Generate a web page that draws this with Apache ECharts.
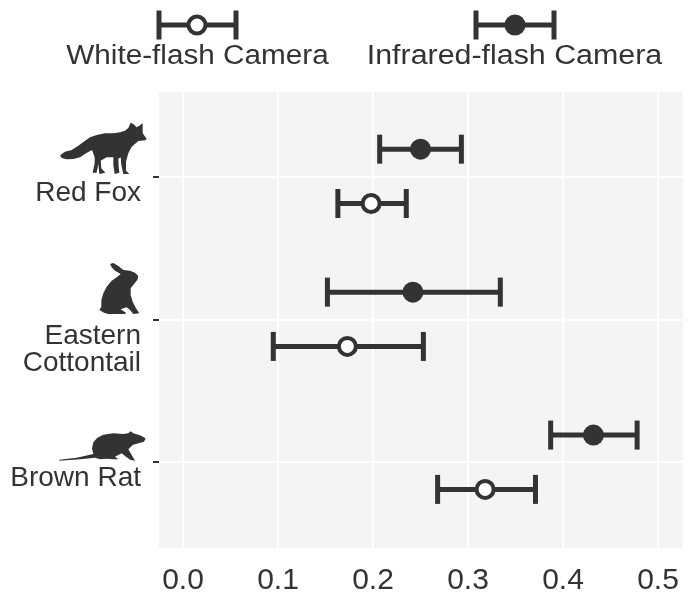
<!DOCTYPE html>
<html><head><meta charset="utf-8">
<style>html,body{margin:0;padding:0;background:#fff}#c{width:691px;height:592px}</style>
<script src="https://cdn.jsdelivr.net/npm/echarts@6/dist/echarts.min.js"></script>
</head><body><div id="c"></div>
<script>
const species = ['Brown Rat', 'Eastern\nCottontail', 'Red Fox'];
const rowPositions = [1, 2, 3];
const xTicks = [0, 0.1, 0.2, 0.3, 0.4, 0.5];
const infraredMean = [0.432, 0.242, 0.250];
const infraredLow  = [0.387, 0.152, 0.207];
const infraredHigh = [0.478, 0.334, 0.293];
const whiteMean = [0.318, 0.173, 0.198];
const whiteLow  = [0.268, 0.095, 0.163];
const whiteHigh = [0.371, 0.253, 0.235];
const DODGE = 0.19, INK = '#333333', FONT = '"Liberation Sans", Arial, sans-serif';

const row = (mean, low, high, off) => mean.map((m, i) => [m, low[i], high[i], rowPositions[i] + off]);

function drawer(open) {
  return function (params, api) {
    const y = api.value(3);
    const a = api.coord([api.value(1), y]);
    const b = api.coord([api.value(2), y]);
    const c = api.coord([api.value(0), y]);
    return { type: 'group', children: errorBar(a[0], b[0], c[0], a[1], open) };
  };
}
function errorBar(x0, x1, cx, y, open) {
  const ln = (a, b, c, d) => ({ type: 'line', shape: { x1: a, y1: b, x2: c, y2: d }, style: { stroke: INK, lineWidth: 5 } });
  return [
    ln(x0, y, x1, y),
    ln(x0, y - 14.5, x0, y + 14.5),
    ln(x1, y - 14.5, x1, y + 14.5),
    { type: 'circle', shape: { cx, cy: y, r: open ? 8.5 : 10.5 },
      style: { fill: open ? '#fff' : INK, stroke: open ? INK : null, lineWidth: open ? 4 : 0 } }
  ];
}

const foxOutline = [[180,166],[195,155],[215,150],[235,137],[250,126],[270,112],[290,105],[315,100],[340,100],[360,97],[375,92],[385,84],[392,68],[400,72],[410,82],[420,76],[428,70],[428,88],[428,100],[440,116],[436,121],[415,123],[395,140],[385,160],[378,185],[378,212],[388,222],[370,222],[364,195],[362,172],[355,176],[356,200],[358,218],[344,222],[340,195],[340,172],[320,172],[302,182],[304,205],[316,218],[298,222],[295,192],[290,218],[278,218],[284,190],[284,172],[276,150],[258,160],[240,172],[220,177],[200,178],[185,174]];
const rabbitOutline = [[330,42],[340,39],[355,48],[370,60],[390,62],[405,68],[415,78],[412,90],[402,102],[392,115],[392,135],[398,155],[408,175],[418,190],[400,192],[390,180],[380,172],[362,178],[378,188],[375,192],[325,192],[312,188],[298,180],[304,170],[304,150],[310,130],[320,110],[335,92],[350,82],[362,72],[345,62],[335,52]];
const ratOutline = [[178,149],[230,143],[280,132],[276,115],[280,97],[292,83],[310,74],[340,70],[370,72],[385,70],[392,64],[400,70],[420,76],[437,85],[432,95],[415,100],[398,105],[385,118],[395,135],[405,152],[392,150],[378,140],[365,130],[345,140],[355,148],[340,148],[320,146],[300,148],[285,143],[240,148],[178,152]];
const silhouette = (pts, oy) => ({ type: 'polygon', x: 0, y: oy, scaleX: 1 / 3, scaleY: 1 / 3,
  shape: { points: pts }, style: { fill: INK } });
const legendText = (text, x, sx) => ({ type: 'text', x, y: 57, scaleX: sx,
  style: { text, fill: INK, font: '27px ' + FONT, textAlign: 'center', textVerticalAlign: 'middle' } });
const legendMark = (x0, x1, cx, open) => ({ type: 'group', children: errorBar(x0, x1, cx, 25, open) });

const chart = echarts.init(document.getElementById('c'), null, { renderer: 'canvas' });
chart.setOption({
  animation: false,
  backgroundColor: '#fff',
  grid: { left: 159, right: 8, top: 92, bottom: 44, outerBoundsMode: 'none', show: true, backgroundColor: '#F4F4F4', borderWidth: 0 },
  xAxis: {
    type: 'value', min: -0.0253, max: 0.5263,
    axisLine: { show: false }, axisTick: { show: false, customValues: xTicks },
    axisLabel: { customValues: xTicks, color: INK, fontFamily: FONT, fontSize: 30, margin: 18,
      showMinLabel: true, showMaxLabel: true, formatter: v => v.toFixed(1) },
    splitLine: { show: true, lineStyle: { color: '#fff', width: 2 } }
  },
  yAxis: {
    type: 'value', min: 0.4, max: 3.59,
    axisLine: { show: false, onZero: false },
    axisTick: { show: true, length: 6, customValues: rowPositions, lineStyle: { color: INK, width: 2 } },
    axisLabel: { customValues: rowPositions, color: INK, fontFamily: FONT, fontSize: 28, margin: 18,
      lineHeight: 27, align: 'right', verticalAlign: 'top', padding: [3, 0, 0, 0],
      formatter: v => species[v - 1] },
    splitLine: { show: true, lineStyle: { color: '#fff', width: 2 } }
  },
  series: [
    { type: 'custom', name: 'White-flash Camera', renderItem: drawer(true), encode: { x: [0, 1, 2], y: 3 },
      data: row(whiteMean, whiteLow, whiteHigh, -DODGE) },
    { type: 'custom', name: 'Infrared-flash Camera', renderItem: drawer(false), encode: { x: [0, 1, 2], y: 3 },
      data: row(infraredMean, infraredLow, infraredHigh, DODGE) }
  ],
  graphic: [
    legendMark(159, 236, 197, true),
    legendMark(476, 554, 515, false),
    legendText('White-flash Camera', 197.5, 1.1),
    legendText('Infrared-flash Camera', 514.5, 1.125),
    silhouette(foxOutline, 100),
    silhouette(rabbitOutline, 250),
    silhouette(ratOutline, 410)
  ]
});
</script></body></html>
